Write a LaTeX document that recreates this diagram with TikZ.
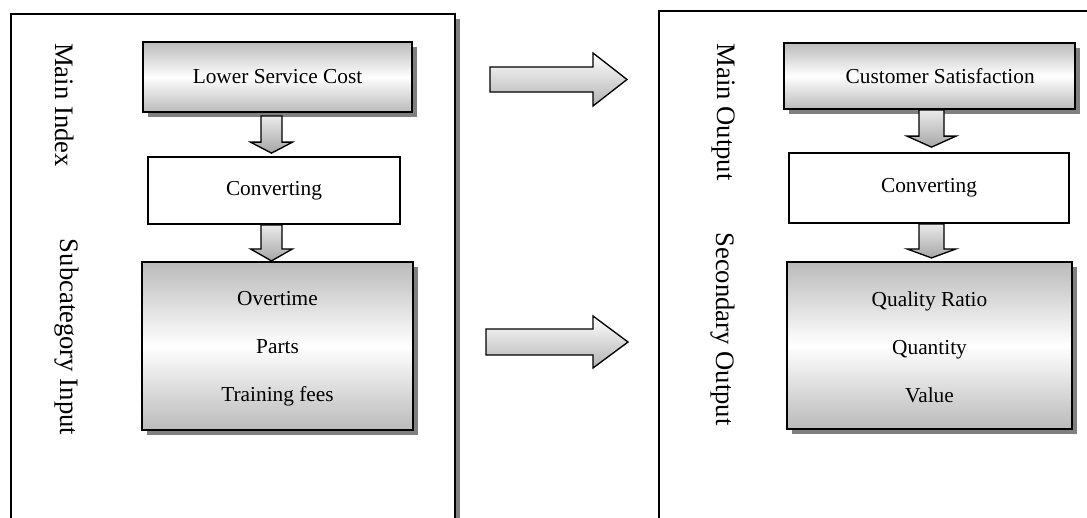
\documentclass[tikz,border=0pt]{standalone}
\usepackage{fontspec}
\setmainfont{Liberation Serif}
\usetikzlibrary{shadows,calc}
\newcommand\hblk[6]{\draw[#1] ($(#2)+(0,-#4)$) -- ($(#3)+(-#6,-#4)$) -- ($(#3)+(-#6,-#5)$) -- (#3) -- ($(#3)+(-#6,#5)$) -- ($(#3)+(-#6,#4)$) -- ($(#2)+(0,#4)$) -- cycle;}
\newcommand\vblk[6]{\draw[#1] ($(#2)+(-#4,0)$) -- ($(#3)+(-#4,-#6)$) -- ($(#3)+(-#5,-#6)$) -- (#3) -- ($(#3)+(#5,-#6)$) -- ($(#3)+(#4,-#6)$) -- ($(#2)+(#4,0)$) -- cycle;}
\begin{document}
\begin{tikzpicture}[x=0.75pt,y=-0.75pt,
  frame/.style={draw,line width=1.2pt,fill=white,inner sep=0,anchor=north west},
  fshadow/.style={drop shadow={shadow xshift=3.75pt,shadow yshift=-3.75pt,fill=black!50,opacity=1}},
  gbox/.style={draw,line width=1.6pt,inner sep=0,top color=black!27,bottom color=black!27,middle color=white,
     font=\fontsize{16}{36}\selectfont,align=center,
     drop shadow={shadow xshift=3.75pt,shadow yshift=-3.75pt,fill=black!50,opacity=1}},
  cbox/.style={draw,line width=1.3pt,fill=white,inner sep=0,font=\fontsize{16}{19}\selectfont},
  side/.style={rotate=-90,font=\fontsize{20}{24}\selectfont,inner sep=0},
  harrow/.style={draw,line width=1pt,top color=white,bottom color=black!30,line join=miter},
  varrow/.style={draw,line width=1pt,top color=black!8,bottom color=black!35,line join=miter}]
\useasboundingbox (0,0) rectangle (1087,517);
\clip (0,0) rectangle (1087,517);
\fill[white] (0,0) rectangle (1087,517);
% outer frames
\node[frame,fshadow,minimum width=333pt,minimum height=525pt] (lframe) at (10,13) {};
\node[frame,minimum width=450pt,minimum height=525pt] (rframe) at (658,10) {};
% side labels
\node[side] (mainidx) at (65,105) {Main Index};
\node[side] (subin) at (67,337) {Subcategory Input};
\node[side] (mainout) at (723,112) {Main Output};
\node[side] (secout) at (723,329) {Secondary Output};
% left column
\node[gbox,minimum width=201.75pt,minimum height=52.5pt] (lsc) at (277.5,77) {Lower Service Cost};
\node[cbox,minimum width=189pt,minimum height=50.25pt] (lconv) at (274,190.5) {Converting};
\node[gbox,minimum width=203.25pt,minimum height=126pt] (lsub) at (277.5,346) {\rule{0pt}{14pt}Overtime\\Parts\\Training fees};
% right column
\node[gbox,minimum width=218.25pt,minimum height=49.5pt] (cs) at (929.5,76) {\hspace*{16pt}Customer Satisfaction};
\node[cbox,minimum width=210pt,minimum height=52.5pt] (rconv) at (929,188) {Converting};
\node[gbox,minimum width=213.75pt,minimum height=125.25pt] (rsec) at (929.5,345.5) {\rule{0pt}{14pt}Quality Ratio\\Quantity\\Value};
% vertical block arrows
\coordinate (la1s) at ($(lsc.south)+(-6,3)$);
\coordinate (la1t) at ($(lconv.north)+(-2.5,-3)$);
\coordinate (la2s) at ($(lconv.south)+(-2.5,0)$);
\coordinate (la2t) at ($(lsub.north)+(-6,0)$);
\coordinate (ra1s) at ($(cs.south)+(2,0)$);
\coordinate (ra1t) at ($(rconv.north)+(2.5,-5)$);
\coordinate (ra2s) at ($(rconv.south)+(2.5,0)$);
\coordinate (ra2t) at ($(rsec.north)+(2,-3)$);
\vblk{varrow}{la1s}{la1t}{10.5}{21}{11}
\vblk{varrow}{la2s}{la2t}{10.5}{21}{12}
\vblk{varrow}{ra1s}{ra1t}{12.5}{24.5}{11}
\vblk{varrow}{ra2s}{ra2t}{12.5}{24.5}{9}
% horizontal block arrows
\coordinate (ha1s) at (490,79.5);
\coordinate (ha1t) at (627,79.5);
\coordinate (ha2s) at (486,342);
\coordinate (ha2t) at (628,342);
\hblk{harrow}{ha1s}{ha1t}{12.5}{26.5}{34}
\hblk{harrow}{ha2s}{ha2t}{13}{26}{35}
\end{tikzpicture}
\end{document}
